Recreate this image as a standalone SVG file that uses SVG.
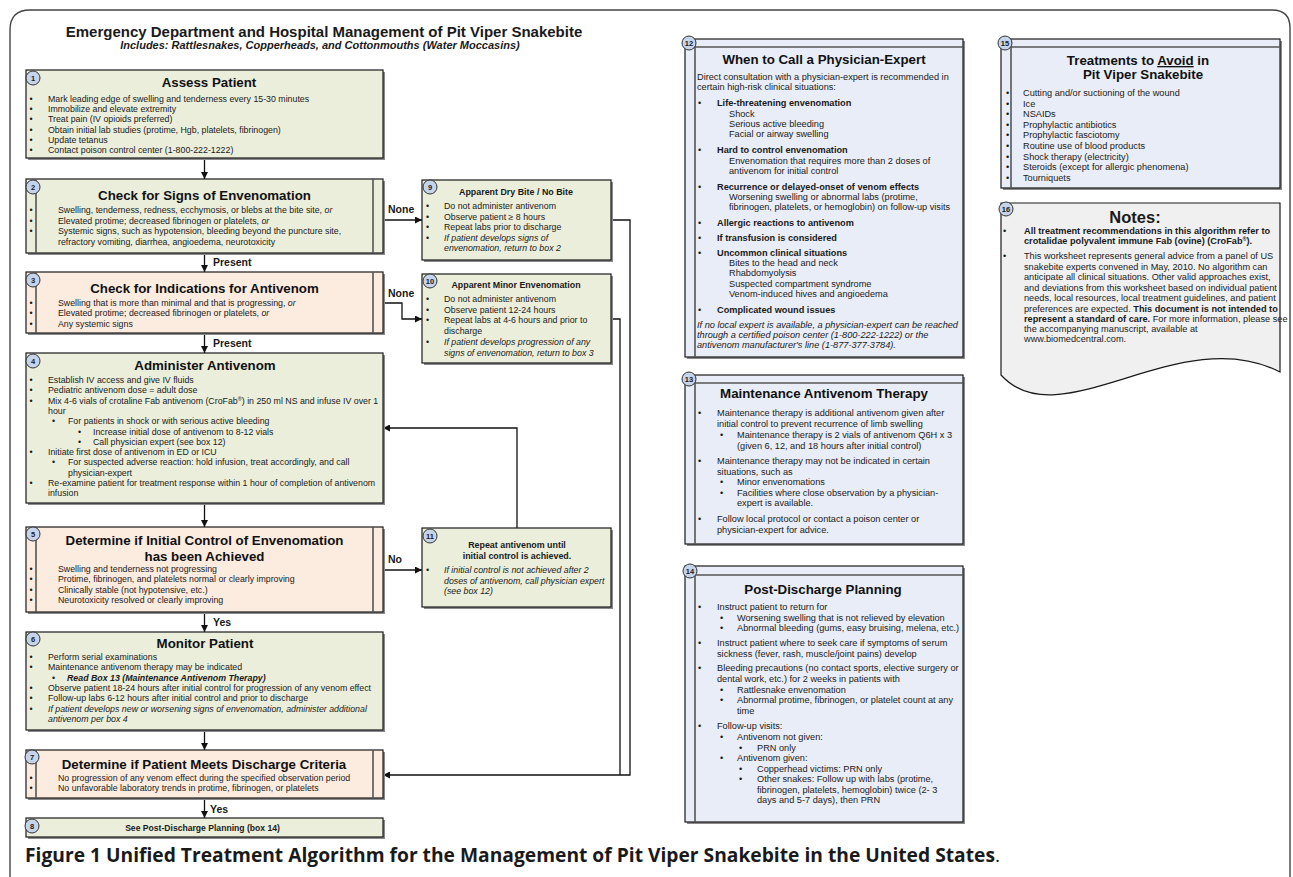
<svg xmlns="http://www.w3.org/2000/svg" width="1293" height="877" viewBox="0 0 1293 877">
<style>
text{font-family:"Liberation Sans",Arial,sans-serif;fill:#1a1a1a}
.t{font-size:8.8px}
.r{font-size:9.2px}
.h{font-weight:bold;font-size:13.3px;text-anchor:middle;fill:#111}
.hs{font-weight:bold;font-size:8.9px;text-anchor:middle}
.i{font-style:italic}
.bo{font-weight:bold}
.lb{font-weight:bold;font-size:10.5px}
.num{font-weight:bold;font-size:7.5px;text-anchor:middle}
.sh{fill:#8a8a8a;stroke:none}
.g{fill:#EAEEDB;stroke:#1a1a1a;stroke-width:1.2}
.p{fill:#FCEBDF;stroke:#1a1a1a;stroke-width:1.2}
.b{fill:#E9EDF7;stroke:#1a1a1a;stroke-width:1.2}
.n{fill:#F0F0F0;stroke:#1a1a1a;stroke-width:1.2}
.in{stroke:#555;stroke-width:1.6;fill:none}
.cc{fill:#C5D4EB;stroke:#333;stroke-width:1}
.cn{stroke:#111;stroke-width:1.3;fill:none}
</style>
<defs>
<marker id="ah" viewBox="0 0 10 10" refX="10" refY="5" markerWidth="7" markerHeight="7" markerUnits="userSpaceOnUse" orient="auto"><path d="M0,0 L10,5 L0,10 z" fill="#111"/></marker>
</defs>
<rect width="1293" height="877" fill="#fff"/>
<path d="M10,877 V30 Q10,10 30,10 H1272 Q1290,10 1290,28 V877" fill="none" stroke="#444" stroke-width="1.4"/>

<g id="header">
<text x="324" y="37" style="font-weight:bold;font-size:15px" text-anchor="middle">Emergency Department and Hospital Management of Pit Viper Snakebite</text>
<text x="320" y="49" style="font-weight:bold;font-style:italic;font-size:11px" text-anchor="middle">Includes: Rattlesnakes, Copperheads, and Cottonmouths (Water Moccasins)</text>
</g>

<g id="connectors">
<line class="cn" x1="204.5" y1="158" x2="204.5" y2="179" marker-end="url(#ah)"/>
<line class="cn" x1="204.5" y1="253" x2="204.5" y2="272" marker-end="url(#ah)"/>
<line class="cn" x1="204.5" y1="333" x2="204.5" y2="353" marker-end="url(#ah)"/>
<line class="cn" x1="204.5" y1="503" x2="204.5" y2="527" marker-end="url(#ah)"/>
<line class="cn" x1="204.5" y1="612" x2="204.5" y2="632" marker-end="url(#ah)"/>
<line class="cn" x1="204.5" y1="730" x2="204.5" y2="750" marker-end="url(#ah)"/>
<line class="cn" x1="204.5" y1="798" x2="204.5" y2="818" marker-end="url(#ah)"/>
<line class="cn" x1="383" y1="220" x2="422" y2="220" marker-end="url(#ah)"/>
<polyline class="cn" points="383,303 402,303 402,319 422,319" marker-end="url(#ah)"/>
<line class="cn" x1="383" y1="570" x2="422" y2="570" marker-end="url(#ah)"/>
<polyline class="cn" points="517,528 517,428 383,428" marker-end="url(#ah)"/>
<polyline class="cn" points="611,220 630,220 630,775 383,775" marker-end="url(#ah)"/>
<polyline class="cn" points="611,319 620,319 620,775"/>
<text class="lb" x="213" y="266">Present</text>
<text class="lb" x="213" y="347">Present</text>
<text class="lb" x="213" y="626">Yes</text>
<text class="lb" x="210" y="813">Yes</text>
<text class="lb" x="388" y="213">None</text>
<text class="lb" x="388" y="297">None</text>
<text class="lb" x="388" y="563">No</text>
</g>

<g id="box1">
<rect class="sh" x="28" y="72" width="357" height="88"/>
<rect class="g" x="26" y="70" width="357" height="88"/>
<circle class="cc" cx="33" cy="78" r="7"/><text class="num" x="33" y="80.7">1</text>
<text class="h" x="209" y="87">Assess Patient</text>
<text class="t">
<tspan x="29.5" y="102">•</tspan><tspan x="48">Mark leading edge of swelling and tenderness every 15-30 minutes</tspan>
<tspan x="29.5" y="112.2">•</tspan><tspan x="48">Immobilize and elevate extremity</tspan>
<tspan x="29.5" y="122.4">•</tspan><tspan x="48">Treat pain (IV opioids preferred)</tspan>
<tspan x="29.5" y="132.6">•</tspan><tspan x="48">Obtain initial lab studies (protime, Hgb, platelets, fibrinogen)</tspan>
<tspan x="29.5" y="142.8">•</tspan><tspan x="48">Update tetanus</tspan>
<tspan x="29.5" y="153">•</tspan><tspan x="48">Contact poison control center (1-800-222-1222)</tspan>
</text>
</g>

<g id="box2">
<rect class="sh" x="28" y="181" width="357" height="74"/>
<rect class="g" x="26" y="179" width="357" height="74"/>
<path class="in" d="M36,179 V253 M373,179 V253"/>
<circle class="cc" cx="33" cy="187" r="7"/><text class="num" x="33" y="189.7">2</text>
<text class="h" x="204.5" y="200">Check for Signs of Envenomation</text>
<text class="t">
<tspan x="29.5" y="213">•</tspan><tspan x="58">Swelling, tenderness, redness, ecchymosis, or blebs at the bite site, </tspan><tspan class="i">or</tspan>
<tspan x="29.5" y="223.5">•</tspan><tspan x="58">Elevated protime; decreased fibrinogen or platelets, </tspan><tspan class="i">or</tspan>
<tspan x="29.5" y="234">•</tspan><tspan x="58">Systemic signs, such as hypotension, bleeding beyond the puncture site,</tspan>
<tspan x="58" y="244.5">refractory vomiting, diarrhea, angioedema, neurotoxicity</tspan>
</text>
</g>

<g id="box3">
<rect class="sh" x="28" y="274" width="357" height="61"/>
<rect class="p" x="26" y="272" width="357" height="61"/>
<path class="in" d="M36,272 V333 M373,272 V333"/>
<circle class="cc" cx="33" cy="280" r="7"/><text class="num" x="33" y="282.7">3</text>
<text class="h" x="204.5" y="293">Check for Indications for Antivenom</text>
<text class="t">
<tspan x="29.5" y="305.5">•</tspan><tspan x="58">Swelling that is more than minimal and that is progressing, </tspan><tspan class="i">or</tspan>
<tspan x="29.5" y="316">•</tspan><tspan x="58">Elevated protime; decreased fibrinogen or platelets, </tspan><tspan class="i">or</tspan>
<tspan x="29.5" y="326.5">•</tspan><tspan x="58">Any systemic signs</tspan>
</text>
</g>

<g id="box4">
<rect class="sh" x="28" y="355" width="357" height="150"/>
<rect class="g" x="26" y="353" width="357" height="150"/>
<circle class="cc" cx="33" cy="361" r="7"/><text class="num" x="33" y="363.7">4</text>
<text class="h" x="205" y="370">Administer Antivenom</text>
<text class="t">
<tspan x="29.5" y="383">•</tspan><tspan x="48">Establish IV access and give IV fluids</tspan>
<tspan x="29.5" y="393.3">•</tspan><tspan x="48">Pediatric antivenom dose = adult dose</tspan>
<tspan x="29.5" y="403.6">•</tspan><tspan x="48">Mix 4-6 vials of crotaline Fab antivenom (CroFab</tspan><tspan baseline-shift="super" font-size="5.5">®</tspan><tspan>) in 250 ml NS and infuse IV over 1</tspan>
<tspan x="48" y="413.9">hour</tspan>
<tspan x="52" y="424.2">•</tspan><tspan x="68">For patients in shock or with serious active bleeding</tspan>
<tspan x="78" y="434.5">•</tspan><tspan x="93">Increase initial dose of antivenom to 8-12 vials</tspan>
<tspan x="78" y="444.8">•</tspan><tspan x="93">Call physician expert (see box 12)</tspan>
<tspan x="29.5" y="455.1">•</tspan><tspan x="48">Initiate first dose of antivenom in ED or ICU</tspan>
<tspan x="52" y="465.4">•</tspan><tspan x="68">For suspected adverse reaction: hold infusion, treat accordingly, and call</tspan>
<tspan x="68" y="475.7">physician-expert</tspan>
<tspan x="29.5" y="486">•</tspan><tspan x="48">Re-examine patient for treatment response within 1 hour of completion of antivenom</tspan>
<tspan x="48" y="496.3">infusion</tspan>
</text>
</g>

<g id="box5">
<rect class="sh" x="28" y="529" width="357" height="85"/>
<rect class="p" x="26" y="527" width="357" height="85"/>
<path class="in" d="M36,527 V612 M373,527 V612"/>
<circle class="cc" cx="33" cy="534" r="7"/><text class="num" x="33" y="536.7">5</text>
<text class="h" x="204.5" y="545">Determine if Initial Control of Envenomation</text>
<text class="h" x="204.5" y="561">has been Achieved</text>
<text class="t">
<tspan x="29.5" y="572">•</tspan><tspan x="58">Swelling and tenderness not progressing</tspan>
<tspan x="29.5" y="582.3">•</tspan><tspan x="58">Protime, fibrinogen, and platelets normal or clearly improving</tspan>
<tspan x="29.5" y="592.6">•</tspan><tspan x="58">Clinically stable (not hypotensive, etc.)</tspan>
<tspan x="29.5" y="602.9">•</tspan><tspan x="58">Neurotoxicity resolved or clearly improving</tspan>
</text>
</g>

<g id="box6">
<rect class="sh" x="28" y="634" width="357" height="98"/>
<rect class="g" x="26" y="632" width="357" height="98"/>
<circle class="cc" cx="33" cy="639" r="7"/><text class="num" x="33" y="641.7">6</text>
<text class="h" x="205" y="648">Monitor Patient</text>
<text class="t">
<tspan x="29.5" y="660">•</tspan><tspan x="48">Perform serial examinations</tspan>
<tspan x="29.5" y="670.3">•</tspan><tspan x="48">Maintenance antivenom therapy may be indicated</tspan>
<tspan x="52" y="680.6">•</tspan><tspan x="67" class="bo i">Read Box 13 (Maintenance Antivenom Therapy)</tspan>
<tspan x="29.5" y="690.9">•</tspan><tspan x="48">Observe patient 18-24 hours after initial control for progression of any venom effect</tspan>
<tspan x="29.5" y="701.2">•</tspan><tspan x="48">Follow-up labs 6-12 hours after initial control and prior to discharge</tspan>
<tspan x="29.5" y="711.5">•</tspan><tspan x="48" class="i">If patient develops new or worsening signs of envenomation, administer additional</tspan>
<tspan x="48" y="721.8" class="i">antivenom per box 4</tspan>
</text>
</g>

<g id="box7">
<rect class="sh" x="28" y="752" width="357" height="48"/>
<rect class="p" x="26" y="750" width="357" height="48"/>
<path class="in" d="M36,750 V798 M373,750 V798"/>
<circle class="cc" cx="32" cy="757" r="7"/><text class="num" x="32" y="759.7">7</text>
<text class="h" x="204" y="769">Determine if Patient Meets Discharge Criteria</text>
<text class="t">
<tspan x="29.5" y="781">•</tspan><tspan x="58">No progression of any venom effect during the specified observation period</tspan>
<tspan x="29.5" y="791">•</tspan><tspan x="58">No unfavorable laboratory trends in protime, fibrinogen, or platelets</tspan>
</text>
</g>

<g id="box8">
<rect class="sh" x="28" y="820" width="357" height="19"/>
<rect class="g" x="26" y="818" width="357" height="19"/>
<circle class="cc" cx="32" cy="826" r="7"/><text class="num" x="32" y="828.7">8</text>
<text x="202.5" y="831" style="font-weight:bold;font-size:8.6px" text-anchor="middle">See Post-Discharge Planning (box 14)</text>
</g>

<g id="box9">
<rect class="sh" x="424" y="182" width="189" height="80"/>
<rect class="g" x="422" y="180" width="189" height="80"/>
<circle class="cc" cx="430" cy="187" r="7"/><text class="num" x="430" y="189.7">9</text>
<text class="hs" x="516" y="194.5">Apparent Dry Bite / No Bite</text>
<text class="t">
<tspan x="426" y="209">•</tspan><tspan x="444">Do not administer antivenom</tspan>
<tspan x="426" y="219.5">•</tspan><tspan x="444">Observe patient ≥ 8 hours</tspan>
<tspan x="426" y="230">•</tspan><tspan x="444">Repeat labs prior to discharge</tspan>
<tspan x="426" y="240.5">•</tspan><tspan x="444" class="i">If patient develops signs of</tspan>
<tspan x="444" y="251" class="i">envenomation, return to box 2</tspan>
</text>
</g>

<g id="box10">
<rect class="sh" x="424" y="276" width="189" height="89"/>
<rect class="g" x="422" y="274" width="189" height="89"/>
<circle class="cc" cx="430" cy="281" r="7"/><text class="num" x="430" y="283.7">10</text>
<text class="hs" x="516" y="287.5">Apparent Minor Envenomation</text>
<text class="t">
<tspan x="426" y="302">•</tspan><tspan x="444">Do not administer antivenom</tspan>
<tspan x="426" y="312.7">•</tspan><tspan x="444">Observe patient 12-24 hours</tspan>
<tspan x="426" y="323.4">•</tspan><tspan x="444">Repeat labs at 4-6 hours and prior to</tspan>
<tspan x="444" y="334.1">discharge</tspan>
<tspan x="426" y="344.8">•</tspan><tspan x="444" class="i">If patient develops progression of any</tspan>
<tspan x="444" y="355.5" class="i">signs of envenomation, return to box 3</tspan>
</text>
</g>

<g id="box11">
<rect class="sh" x="424" y="530" width="189" height="79"/>
<rect class="g" x="422" y="528" width="189" height="79"/>
<circle class="cc" cx="430" cy="536" r="7"/><text class="num" x="430" y="538.7">11</text>
<text class="hs" x="517" y="547.5">Repeat antivenom until</text>
<text class="hs" x="517" y="558.5">initial control is achieved.</text>
<text class="t i">
<tspan x="426" y="573">•</tspan><tspan x="444">If initial control is not achieved after 2</tspan>
<tspan x="444" y="583.5">doses of antivenom, call physician expert</tspan>
<tspan x="444" y="594">(see box 12)</tspan>
</text>
</g>

<g id="box12">
<rect class="sh" x="687" y="41" width="278" height="318"/>
<rect class="b" x="685" y="39" width="278" height="318"/>
<path class="in" d="M695,39 V357 M685,47 H963"/>
<circle class="cc" cx="689" cy="43" r="7"/><text class="num" x="689" y="45.7">12</text>
<text class="h" x="824" y="64">When to Call a Physician-Expert</text>
<text class="r">
<tspan x="697" y="80">Direct consultation with a physician-expert is recommended in</tspan>
<tspan x="697" y="89.5">certain high-risk clinical situations:</tspan>
<tspan x="698" y="106">•</tspan><tspan x="717" class="bo">Life-threatening envenomation</tspan>
<tspan x="729" y="116.5">Shock</tspan>
<tspan x="729" y="127">Serious active bleeding</tspan>
<tspan x="729" y="137">Facial or airway swelling</tspan>
<tspan x="698" y="153">•</tspan><tspan x="717" class="bo">Hard to control envenomation</tspan>
<tspan x="729" y="163.5">Envenomation that requires more than 2 doses of</tspan>
<tspan x="729" y="174">antivenom for initial control</tspan>
<tspan x="698" y="189.5">•</tspan><tspan x="717" class="bo">Recurrence or delayed-onset of venom effects</tspan>
<tspan x="729" y="199.5">Worsening swelling or abnormal labs (protime,</tspan>
<tspan x="729" y="210">fibrinogen, platelets, or hemoglobin) on follow-up visits</tspan>
<tspan x="698" y="225.5">•</tspan><tspan x="717" class="bo">Allergic reactions to antivenom</tspan>
<tspan x="698" y="241">•</tspan><tspan x="717" class="bo">If transfusion is considered</tspan>
<tspan x="698" y="256">•</tspan><tspan x="717" class="bo">Uncommon clinical situations</tspan>
<tspan x="729" y="266">Bites to the head and neck</tspan>
<tspan x="729" y="276">Rhabdomyolysis</tspan>
<tspan x="729" y="286.5">Suspected compartment syndrome</tspan>
<tspan x="729" y="297">Venom-induced hives and angioedema</tspan>
<tspan x="698" y="312.5">•</tspan><tspan x="717" class="bo">Complicated wound issues</tspan>
<tspan x="697" y="327.5" class="i">If no local expert is available, a physician-expert can be reached</tspan>
<tspan x="697" y="337.5" class="i">through a certified poison center (1-800-222-1222) or the</tspan>
<tspan x="697" y="348" class="i">antivenom manufacturer's line (1-877-377-3784).</tspan>
</text>
</g>

<g id="box13">
<rect class="sh" x="687" y="377" width="278" height="169"/>
<rect class="b" x="685" y="375" width="278" height="169"/>
<path class="in" d="M695,375 V544 M685,383 H963"/>
<circle class="cc" cx="689" cy="379" r="7"/><text class="num" x="689" y="381.7">13</text>
<text class="h" x="824" y="398">Maintenance Antivenom Therapy</text>
<text class="r">
<tspan x="698" y="416">•</tspan><tspan x="717">Maintenance therapy is additional antivenom given after</tspan>
<tspan x="717" y="427">initial control to prevent recurrence of limb swelling</tspan>
<tspan x="720" y="438">•</tspan><tspan x="737">Maintenance therapy is 2 vials of antivenom Q6H x 3</tspan>
<tspan x="737" y="448.5">(given 6, 12, and 18 hours after initial control)</tspan>
<tspan x="698" y="464">•</tspan><tspan x="717">Maintenance therapy may not be indicated in certain</tspan>
<tspan x="717" y="474.5">situations, such as</tspan>
<tspan x="720" y="485">•</tspan><tspan x="737">Minor envenomations</tspan>
<tspan x="720" y="495.5">•</tspan><tspan x="737">Facilities where close observation by a physician-</tspan>
<tspan x="737" y="506">expert is available.</tspan>
<tspan x="698" y="522">•</tspan><tspan x="717">Follow local protocol or contact a poison center or</tspan>
<tspan x="717" y="532.5">physician-expert for advice.</tspan>
</text>
</g>

<g id="box14">
<rect class="sh" x="687" y="568" width="278" height="256"/>
<rect class="b" x="685" y="566" width="278" height="256"/>
<path class="in" d="M695,566 V822 M685,575 H963"/>
<circle class="cc" cx="690" cy="571" r="7"/><text class="num" x="690" y="573.7">14</text>
<text class="h" x="823" y="594">Post-Discharge Planning</text>
<text class="r">
<tspan x="698" y="610">•</tspan><tspan x="717">Instruct patient to return for</tspan>
<tspan x="720" y="620.5">•</tspan><tspan x="737">Worsening swelling that is not relieved by elevation</tspan>
<tspan x="720" y="631">•</tspan><tspan x="737">Abnormal bleeding (gums, easy bruising, melena, etc.)</tspan>
<tspan x="698" y="646">•</tspan><tspan x="717">Instruct patient where to seek care if symptoms of serum</tspan>
<tspan x="717" y="656.5">sickness (fever, rash, muscle/joint pains) develop</tspan>
<tspan x="698" y="671">•</tspan><tspan x="717">Bleeding precautions (no contact sports, elective surgery or</tspan>
<tspan x="717" y="681.5">dental work, etc.) for 2 weeks in patients with</tspan>
<tspan x="720" y="692.5">•</tspan><tspan x="737">Rattlesnake envenomation</tspan>
<tspan x="720" y="703">•</tspan><tspan x="737">Abnormal protime, fibrinogen, or platelet count at any</tspan>
<tspan x="737" y="713.5">time</tspan>
<tspan x="698" y="729">•</tspan><tspan x="717">Follow-up visits:</tspan>
<tspan x="720" y="740">•</tspan><tspan x="737">Antivenom not given:</tspan>
<tspan x="739" y="750.5">•</tspan><tspan x="757">PRN only</tspan>
<tspan x="720" y="761">•</tspan><tspan x="737">Antivenom given:</tspan>
<tspan x="739" y="771.5">•</tspan><tspan x="757">Copperhead victims: PRN only</tspan>
<tspan x="739" y="782">•</tspan><tspan x="757">Other snakes: Follow up with labs (protime,</tspan>
<tspan x="757" y="792.5">fibrinogen, platelets, hemoglobin) twice (2- 3</tspan>
<tspan x="757" y="803">days and 5-7 days), then PRN</tspan>
</text>
</g>

<g id="box15">
<rect class="sh" x="1003" y="41" width="279" height="149"/>
<rect class="b" x="1001" y="39" width="279" height="149"/>
<path class="in" d="M1011,39 V188 M1001,47 H1280"/>
<circle class="cc" cx="1005" cy="43" r="7"/><text class="num" x="1005" y="45.7">15</text>
<text class="h" x="1138" y="65">Treatments to <tspan text-decoration="underline">Avoid</tspan> in</text>
<text class="h" x="1143" y="79">Pit Viper Snakebite</text>
<text class="r">
<tspan x="1006" y="96">•</tspan><tspan x="1023">Cutting and/or suctioning of the wound</tspan>
<tspan x="1006" y="106.6">•</tspan><tspan x="1023">Ice</tspan>
<tspan x="1006" y="117.2">•</tspan><tspan x="1023">NSAIDs</tspan>
<tspan x="1006" y="127.8">•</tspan><tspan x="1023">Prophylactic antibiotics</tspan>
<tspan x="1006" y="138.4">•</tspan><tspan x="1023">Prophylactic fasciotomy</tspan>
<tspan x="1006" y="149">•</tspan><tspan x="1023">Routine use of blood products</tspan>
<tspan x="1006" y="159.6">•</tspan><tspan x="1023">Shock therapy (electricity)</tspan>
<tspan x="1006" y="170.2">•</tspan><tspan x="1023">Steroids (except for allergic phenomena)</tspan>
<tspan x="1006" y="180.8">•</tspan><tspan x="1023">Tourniquets</tspan>
</text>
</g>

<g id="box16">
<path class="n" d="M1001,203 H1280 V372 C1180,320 1060,440 1001,375 Z"/>
<circle class="cc" cx="1006" cy="209" r="7"/><text class="num" x="1006" y="211.7">16</text>
<text x="1135" y="223" style="font-weight:bold;font-size:16.5px" text-anchor="middle">Notes:</text>
<text class="r">
<tspan x="1003" y="234">•</tspan><tspan x="1024" class="bo">All treatment recommendations in this algorithm refer to</tspan>
<tspan x="1024" y="243.5" class="bo">crotalidae polyvalent immune Fab (ovine) (CroFab</tspan><tspan class="bo" baseline-shift="super" font-size="5.5">®</tspan><tspan class="bo">).</tspan>
<tspan x="1003" y="259">•</tspan><tspan x="1024">This worksheet represents general advice from a panel of US</tspan>
<tspan x="1024" y="269.5">snakebite experts convened in May, 2010. No algorithm can</tspan>
<tspan x="1024" y="280">anticipate all clinical situations. Other valid approaches exist,</tspan>
<tspan x="1024" y="290.5">and deviations from this worksheet based on individual patient</tspan>
<tspan x="1024" y="301">needs, local resources, local treatment guidelines, and patient</tspan>
<tspan x="1024" y="311.5">preferences are expected. </tspan><tspan class="bo">This document is not intended to</tspan>
<tspan x="1024" y="322" class="bo">represent a standard of care.</tspan><tspan> For more information, please see</tspan>
<tspan x="1024" y="332">the accompanying manuscript, available at</tspan>
<tspan x="1024" y="342">www.biomedcentral.com.</tspan>
</text>
</g>

<g id="caption">
<text x="25" y="862" textLength="975" lengthAdjust="spacingAndGlyphs" style="font-family:'Open Sans','Liberation Sans',sans-serif;font-size:19px;font-weight:bold">Figure 1 Unified Treatment Algorithm for the Management of Pit Viper Snakebite in the United States<tspan style="font-weight:normal">.</tspan></text>
</g>
</svg>
